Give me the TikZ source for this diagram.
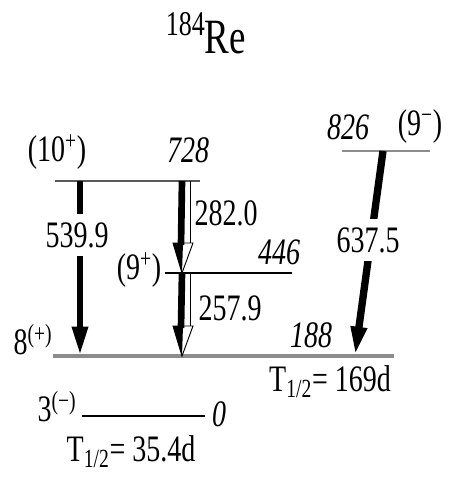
\documentclass[tikz,border=0pt]{standalone}
\usepackage{fontspec}
\setmainfont{Liberation Serif}[FakeStretch=0.75]
\usetikzlibrary{arrows.meta,calc}

\tikzset{
  lvl/.style={line width=1.1pt, black!65},
  gam/.style={line width=5pt, -{Triangle[width=11pt,length=22pt]}},
  lbl/.style={font=\fontsize{28}{30}\selectfont, inner sep=0pt},
  en/.style={font=\fontsize{28}{30}\selectfont\itshape, inner sep=0pt},
  gap/.style={lbl, fill=white, inner ysep=6pt},
}

\begin{document}
\begin{tikzpicture}[x=0.75pt, y=-0.75pt]
  \useasboundingbox (0,0) rectangle (449,479);
  \node[inner sep=0pt, anchor=base, font=\fontsize{37}{40}\selectfont] (title) at (206,53)
    {\raisebox{13.5pt}{\fontsize{26}{28}\selectfont 184}Re};

  % levels
  \coordinate (a728) at (55,181);  \coordinate (b728) at (200,181);
  \coordinate (a826) at (342,151); \coordinate (b826) at (430,151);
  \coordinate (a446) at (165,273); \coordinate (b446) at (292,273);
  \coordinate (a188) at (53,356);  \coordinate (b188) at (394,356);
  \coordinate (a0) at (82,416);    \coordinate (b0) at (205,416);
  \draw[lvl] (a728) -- (b728);
  \draw[lvl, line width=1.6pt, black!45] (a826) -- (b826);
  \draw[line width=0.8pt] (a446) -- (b446);
  \draw[lvl, line width=2.4pt, black!45] (a188) -- (b188);
  \draw[line width=1.1pt] (a0) -- (b0);

  % level texts
  \node[lbl] (j728) at (57,152) {(10\textsuperscript{+})};
  \node[en] (e728) at (188,150) {728};
  \node[en] (e826) at (348,127) {826};
  \node[lbl] (j826) at (420,127) {(9\textsuperscript{−})};
  \node[en] (e446) at (279,252) {446};
  \node[lbl] (j446) at (139,270) {(9\textsuperscript{+})};
  \node[en] (e188) at (311,335) {188};
  \node[lbl] (j188) at (33,340) {8\textsuperscript{(+)}};
  \node[lbl] (t188) at (330,382) {T\textsubscript{1/2}= 169d};
  \node[lbl] (j0) at (57,407) {3\textsuperscript{(−)}};
  \node[en] (e0) at (219,414) {0};
  \node[lbl] (t0) at (131,452) {T\textsubscript{1/2}= 35.4d};

  % gamma rays
  \coordinate (g1t) at (80,181);  \coordinate (g1b) at (80,356);
  \coordinate (g2t) at (383,151); \coordinate (g2b) at (355,356);
  \coordinate (g3t) at (182,181); \coordinate (g3b) at (182,273);
  \coordinate (g4t) at (182,273); \coordinate (g4b) at (182,356);
  \draw[gam] (g1t) -- (g1b);
  \draw[gam, line width=5.5pt] (g2t) -- (g2b);
  \foreach \t/\b in {g3t/g3b, g4t/g4b} {
    \draw[line width=0.7pt] ($(\t)+(8,0)$) -- ($(\b)+(8,-30)$);
    \draw[line width=0.7pt, fill=white] ($(\b)+(-9,-30)$) -- (\b) -- ($(\b)+(11,-30)$) -- cycle;
    \draw[line width=5pt] (\t) -- ($(\b)+(-1,-28)$);
    \fill ($(\b)+(-9,-30)$) -- ($(\b)+(1,-30)$) -- (\b) -- cycle;
  }
  \node[gap] (l540) at (77,235) {539.9};
  \node[gap] (l638) at (368,240) {637.5};
  \node[lbl] (l282) at (226,213) {282.0};
  \node[lbl] (l258) at (230,308) {257.9};
\end{tikzpicture}
\end{document}
